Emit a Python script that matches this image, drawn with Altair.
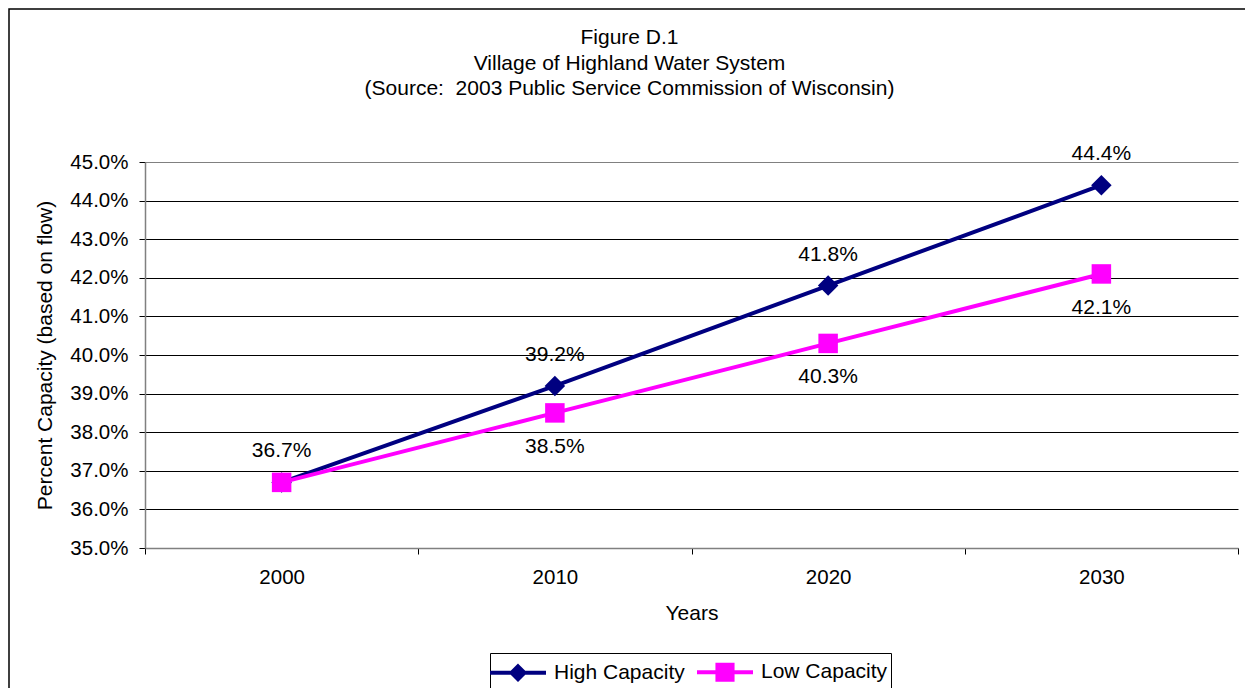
import altair as alt
import pandas as pd

years = ["2000", "2010", "2020", "2030"]
high = [36.7, 39.2, 41.8, 44.4]
low = [36.7, 38.5, 40.3, 42.1]
series_names = ["High Capacity", "Low Capacity"]
series_colors = ["#000080", "#FF00FF"]
y_ticks = [35, 36, 37, 38, 39, 40, 41, 42, 43, 44, 45]
title_lines = ["Figure D.1", "Village of Highland Water System",
               "(Source:\u00a0 2003 Public Service Commission of Wisconsin)"]

rows = []
for y, h, l in zip(years, high, low):
    rows.append({"year": y, "series": series_names[0], "value": h})
    rows.append({"year": y, "series": series_names[1], "value": l})
df = pd.DataFrame(rows)

FONT = "Liberation Sans"
FS = 21

x_enc = alt.X("year:N", sort=years, title="Years",
              scale=alt.Scale(paddingInner=0, paddingOuter=0),
              axis=alt.Axis(labelAngle=0, tickBand="extent", grid=False,
                            labelPadding=13, tickSize=6,
                            titleY=65, titleBaseline="middle"))
y_enc = alt.Y("value:Q", title="Percent Capacity (based on flow)",
              scale=alt.Scale(domain=[35, 45], nice=False, zero=False),
              axis=alt.Axis(values=y_ticks, labelOverlap=False,
                            labelExpr="format(datum.value, '.1f') + '%'",
                            grid=True, tickSize=6, labelPadding=11,
                            gridColor={"condition": {"test": "datum.value === 45", "value": "#808080"},
                                       "value": "#000000"},
                            titleX=-100, titleY=193, titleAngle=270,
                            titleAlign="center", titleBaseline="middle"))

base = alt.Chart(df)

border = alt.Chart(alt.Data(values=[{}])).mark_rect(
    fill=None, stroke="black", strokeWidth=1.5
).encode(x=alt.value(-136), x2=alt.value(1300), y=alt.value(-153), y2=alt.value(800))

def ser(i):
    return base.transform_filter(alt.datum.series == series_names[i])

high_line = ser(0).mark_line(color=series_colors[0], strokeWidth=4).encode(x=x_enc, y=y_enc)
high_pts = ser(0).mark_point(shape="diamond", filled=True, size=420, opacity=1,
                             color=series_colors[0]).encode(x=x_enc, y=y_enc)
low_line = ser(1).mark_line(color=series_colors[1], strokeWidth=4).encode(x=x_enc, y=y_enc)
low_pts = ser(1).mark_point(shape="square", filled=True, size=380, opacity=1,
                            color=series_colors[1]).encode(x=x_enc, y=y_enc)

high_txt = ser(0).transform_calculate(lbl="format(datum.value, '.1f') + '%'").mark_text(
    dy=-31, fontSize=FS, font=FONT, color="black").encode(x=x_enc, y=y_enc, text="lbl:N")
low_txt = base.transform_filter(
    (alt.datum.series == series_names[1]) & (alt.datum.year != years[0])
).transform_calculate(lbl="format(datum.value, '.1f') + '%'").mark_text(
    dy=34, fontSize=FS, font=FONT, color="black").encode(x=x_enc, y=y_enc, text="lbl:N")

legend_paths = [
    "M-2,0H2M0,-0.46L0.46,0L0,0.46L-0.46,0Z",
    "M-2,0H2M-0.54,-0.54H0.54V0.54H-0.54Z",
]
leg = alt.Legend(title=None, orient="none", legendX=345, legendY=491,
                 direction="horizontal", strokeColor="black", padding=3,
                 symbolSize=784, symbolStrokeWidth=4, symbolOpacity=1,
                 symbolOffset=9, labelOffset=20, columnPadding=4,
                 labelFontSize=FS, labelFont=FONT, labelColor="black")
legend_layer = base.mark_point(filled=True, opacity=0).encode(
    x=x_enc, y=y_enc,
    fill=alt.Fill("series:N", scale=alt.Scale(domain=series_names, range=series_colors), legend=leg),
    stroke=alt.Stroke("series:N", scale=alt.Scale(domain=series_names, range=series_colors), legend=leg),
    shape=alt.Shape("series:N", scale=alt.Scale(domain=series_names, range=legend_paths), legend=leg),
)

chart = alt.layer(
    border, high_line, high_pts, low_line, low_pts, high_txt, low_txt, legend_layer
).properties(
    width=1093, height=386,
    padding={"left": 137, "top": 154, "right": 7, "bottom": 140},
    autosize=alt.AutoSizeParams(type="none"),
    background="white",
    title=alt.TitleParams(text=title_lines, anchor="middle", dx=-62, fontSize=FS,
                          font=FONT, fontWeight="normal", lineHeight=25.5,
                          offset=-91, color="black"),
).configure_view(stroke=None).configure_axis(
    labelFont=FONT, labelFontSize=20.5, labelColor="black",
    titleFont=FONT, titleFontSize=FS, titleFontWeight="normal", titleColor="black",
    gridWidth=1, gridOpacity=1,
    domainColor="#808080", domainWidth=1.5, tickColor="#000000", tickWidth=1,
)

chart.save("out.html", embed_options={"renderer": "svg", "actions": False})
